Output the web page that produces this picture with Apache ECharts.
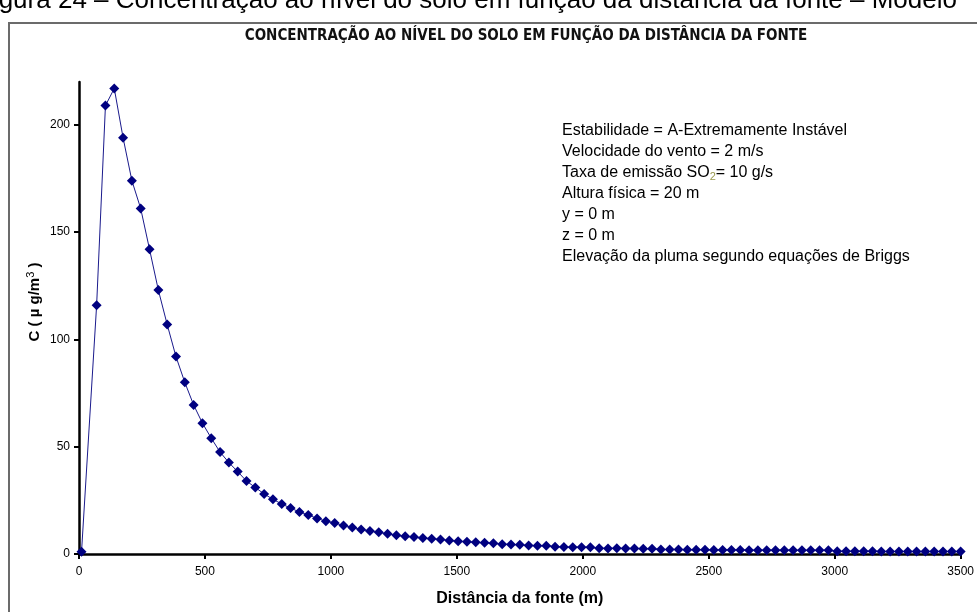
<!DOCTYPE html>
<html>
<head>
<meta charset="utf-8">
<script src="https://cdn.jsdelivr.net/npm/echarts@6/dist/echarts.min.js"></script>
<style>
  html, body { margin: 0; padding: 0; background: #fff; }
  #chart { width: 977px; height: 612px; }
</style>
</head>
<body>
<div id="chart"></div>
<script>
// distância da fonte (m)
const distancias = [
  10, 70, 105, 140, 175, 210, 245, 280, 315, 350,
  385, 420, 455, 490, 525, 560, 595, 630, 665, 700,
  735, 770, 805, 840, 875, 910, 945, 980, 1015, 1050,
  1085, 1120, 1155, 1190, 1225, 1260, 1295, 1330, 1365, 1400,
  1435, 1470, 1505, 1540, 1575, 1610, 1645, 1680, 1715, 1750,
  1785, 1820, 1855, 1890, 1925, 1960, 1995, 2030, 2065, 2100,
  2135, 2170, 2205, 2240, 2275, 2310, 2345, 2380, 2415, 2450,
  2485, 2520, 2555, 2590, 2625, 2660, 2695, 2730, 2765, 2800,
  2835, 2870, 2905, 2940, 2975, 3010, 3045, 3080, 3115, 3150,
  3185, 3220, 3255, 3290, 3325, 3360, 3395, 3430, 3465, 3500
];

// concentração ao nível do solo (µg/m³)
const concentracao = [
  1.0, 116, 209, 217, 194, 174, 161, 142, 123, 107,
  92, 80, 69.5, 61, 54, 47.5, 42.6, 38.4, 34, 31,
  28, 25.5, 23.3, 21.4, 19.6, 18.2, 16.6, 15.3, 14.4, 13.3,
  12.4, 11.4, 10.7, 10.1, 9.4, 8.7, 8.3, 7.9, 7.5, 7.1,
  6.8, 6.3, 5.9, 5.7, 5.5, 5.2, 5.0, 4.6, 4.4, 4.3,
  4.0, 3.9, 3.8, 3.4, 3.3, 3.2, 3.2, 3.1, 2.7, 2.6,
  2.7, 2.6, 2.6, 2.5, 2.4, 2.1, 2.1, 2.1, 2.0, 2.0,
  2.0, 1.9, 1.9, 1.9, 1.9, 1.8, 1.8, 1.8, 1.8, 1.8,
  1.8, 1.7, 1.7, 1.7, 1.7, 1.3, 1.3, 1.3, 1.3, 1.3,
  1.2, 1.2, 1.2, 1.2, 1.2, 1.2, 1.2, 1.2, 1.2, 1.2
];

const xTicks = [0, 500, 1000, 1500, 2000, 2500, 3000, 3500];
const yTicks = [0, 50, 100, 150, 200];

const infoLinhas = [
  'Estabilidade = A-Extremamente Instável',
  'Velocidade do vento = 2 m/s',
  'Taxa de emissão SO{sub|2}= 10 g/s',
  'Altura física = 20 m',
  'y = 0 m',
  'z = 0 m',
  'Elevação da pluma segundo equações de Briggs'
];

const fonte = "'Liberation Sans', Arial, sans-serif";
const fonteNarrow = "'Liberation Sans Narrow', 'DejaVu Sans Condensed', 'Liberation Sans', sans-serif";

const myChart = echarts.init(document.getElementById('chart'));

const option = {
  animation: false,
  backgroundColor: '#fff',
  title: {
    text: 'CONCENTRAÇÃO AO NÍVEL DO SOLO EM FUNÇÃO DA DISTÂNCIA DA FONTE',
    left: 521,
    top: 24,
    textAlign: 'center',
    textStyle: {
      fontFamily: fonteNarrow,
      fontSize: 15,
      fontWeight: 'bold',
      color: '#111'
    }
  },
  grid: {
    left: 79,
    right: 12,
    top: 82,
    bottom: 58,
    containLabel: false
  },
  xAxis: {
    type: 'value',
    min: 0,
    max: 3500,
    interval: 500,
    name: 'Distância da fonte (m)',
    nameLocation: 'middle',
    nameGap: 37,
    nameTextStyle: { fontFamily: fonte, fontSize: 16, fontWeight: 'bold', color: '#000' },
    axisLine: { show: true, onZero: false, lineStyle: { color: '#000', width: 2.5 } },
    axisTick: { show: true, length: 5, lineStyle: { color: '#000', width: 2 }, customValues: xTicks },
    axisLabel: {
      fontFamily: fonte, fontSize: 12, color: '#000', margin: 12,
      customValues: xTicks,
      formatter: (v) => String(v)
    },
    splitLine: { show: false }
  },
  yAxis: {
    type: 'value',
    min: 0,
    max: 220,
    interval: 50,
    axisLine: { show: true, lineStyle: { color: '#000', width: 2.5 } },
    axisTick: { show: true, length: 5, lineStyle: { color: '#000', width: 2 }, customValues: yTicks },
    axisLabel: {
      fontFamily: fonte, fontSize: 12, color: '#000', margin: 9,
      customValues: yTicks,
      formatter: (v) => String(v)
    },
    splitLine: { show: false }
  },
  series: [
    {
      type: 'line',
      data: distancias.map((d, i) => [d, concentracao[i]]),
      symbol: 'diamond',
      symbolSize: 10,
      showSymbol: true,
      clip: false,
      lineStyle: { color: '#1a1a8c', width: 1 },
      itemStyle: { color: '#000080' }
    }
  ],
  graphic: [
    {
      type: 'rect',
      silent: true,
      shape: { x: 9, y: 23, width: 1000, height: 700 },
      style: { fill: null, stroke: '#6b6b6b', lineWidth: 2 }
    },
    {
      // legenda da figura, cortada no topo
      type: 'text',
      left: -23,
      top: -12,
      style: {
        text: 'Figura 24 – Concentração ao nível do solo em função da distância da fonte – Modelo',
        fontFamily: fonte,
        fontSize: 26,
        fill: '#000'
      }
    },
    {
      // nome do eixo y
      type: 'text',
      x: 35,
      y: 302,
      rotation: Math.PI / 2,
      style: {
        text: 'C ( µ g/m{sup|3} )',
        fontFamily: fonte,
        fontSize: 15,
        fontWeight: 'bold',
        fill: '#000',
        align: 'center',
        verticalAlign: 'middle',
        rich: {
          sup: { fontFamily: fonte, fontSize: 11, fill: '#000', padding: [0, 0, 8, 0] }
        }
      }
    },
    {
      type: 'text',
      left: 562,
      top: 120,
      style: {
        text: infoLinhas.join('\n'),
        fontFamily: fonte,
        fontSize: 16,
        lineHeight: 21,
        fill: '#000',
        rich: {
          sub: { fontFamily: fonte, fontSize: 11, fill: '#9a9a50', padding: [8, 0, 0, 0] }
        }
      }
    }
  ]
};

option && myChart.setOption(option);
</script>
</body>
</html>
